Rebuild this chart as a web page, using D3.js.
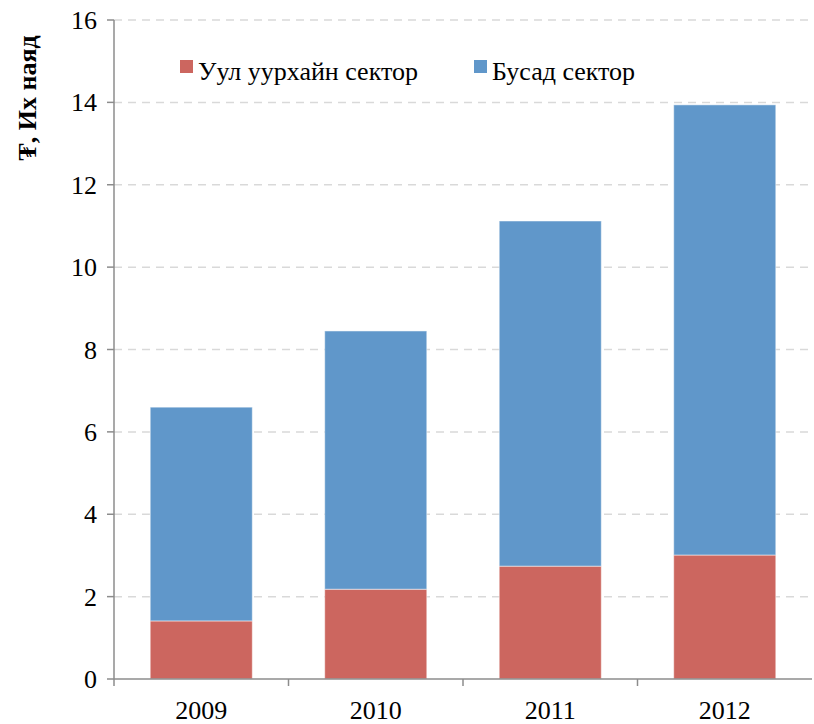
<!DOCTYPE html>
<html>
<head>
<meta charset="utf-8">
<script src="https://cdn.jsdelivr.net/npm/d3@7"></script>
</head>
<body style="margin:0">
<svg id="chart" width="814" height="724"></svg>
<script>
var years = ["2009", "2010", "2011", "2012"];
var mining = [1.41, 2.18, 2.74, 3.01];      // Уул уурхайн сектор
var other = [5.19, 6.27, 8.38, 10.93];      // Бусад сектор
var seriesNames = ["Уул уурхайн сектор", "Бусад сектор"];
var seriesColors = ["#CC665F", "#6097CA"];
var yTicks = [0, 2, 4, 6, 8, 10, 12, 14, 16];
var yTitle = "₮, Их наяд";

var FONT = "Liberation Serif";
var svg = d3.select("#chart");
var margin = {left: 114, right: 2, top: 20, bottom: 45};
var width = 814 - margin.left - margin.right;
var height = 724 - margin.top - margin.bottom;

// scales in page coordinates so texts can sit directly in the svg
var x = d3.scaleBand().domain(years).range([margin.left, margin.left + width])
  .paddingInner(0.415).paddingOuter(0.2075);
var y = d3.scaleLinear().domain([0, 16]).range([margin.top + height, margin.top]);
var x0 = margin.left, x1 = margin.left + width, yBase = y(0);

// gridlines
svg.selectAll(".grid").data(yTicks.slice(1)).enter().append("line")
  .attr("x1", x0).attr("x2", x1)
  .attr("y1", function(d) { return y(d); })
  .attr("y2", function(d) { return y(d); })
  .attr("stroke", "#d9d9d9")
  .attr("stroke-width", 1.5)
  .attr("stroke-dasharray", "8,6");

// stacked bars
var table = years.map(function(yr, i) {
  return {year: yr, mining: mining[i], other: other[i]};
});
var layers = d3.stack().keys(["mining", "other"])(table);

svg.selectAll(".layer").data(layers).enter().append("g")
  .attr("fill", function(d, i) { return seriesColors[i]; })
  .selectAll("rect").data(function(d) { return d; }).enter().append("rect")
  .attr("x", function(d) { return x(d.data.year); })
  .attr("width", x.bandwidth())
  .attr("y", function(d) { return y(d[1]); })
  .attr("height", function(d) { return y(d[0]) - y(d[1]); })
  .attr("stroke", "#ffffff")
  .attr("stroke-opacity", 0.5)
  .attr("stroke-width", 1);

// y axis
svg.append("line").attr("x1", x0).attr("x2", x0).attr("y1", y(16)).attr("y2", yBase)
  .attr("stroke", "#8c8c8c").attr("stroke-width", 1.5);
svg.selectAll(".ytick").data(yTicks).enter().append("line")
  .attr("x1", x0 - 7).attr("x2", x0)
  .attr("y1", function(d) { return y(d); }).attr("y2", function(d) { return y(d); })
  .attr("stroke", "#8c8c8c").attr("stroke-width", 1.5);
svg.selectAll(".ylabel").data(yTicks).enter().append("text")
  .attr("x", x0 - 17)
  .attr("y", function(d) { return y(d) + 9; })
  .attr("text-anchor", "end")
  .attr("font-family", FONT)
  .attr("font-size", 26)
  .text(function(d) { return d; });

// x axis with ticks between categories
svg.append("line").attr("x1", x0).attr("x2", x1).attr("y1", yBase).attr("y2", yBase)
  .attr("stroke", "#8c8c8c").attr("stroke-width", 1.5);
var bounds = [x0].concat(years.map(function(d) { return x(d) + x.bandwidth() + x.step() * x.paddingInner() / 2; }));
svg.selectAll(".xtick").data(bounds.slice(0, years.length)).enter().append("line")
  .attr("x1", function(d) { return d; }).attr("x2", function(d) { return d; })
  .attr("y1", yBase).attr("y2", yBase + 7)
  .attr("stroke", "#8c8c8c").attr("stroke-width", 1.5);
svg.selectAll(".xlabel").data(years).enter().append("text")
  .attr("x", function(d) { return x(d) + x.bandwidth() / 2; })
  .attr("y", yBase + 40)
  .attr("text-anchor", "middle")
  .attr("font-family", FONT)
  .attr("font-size", 26)
  .text(function(d) { return d; });

// y title
svg.append("text")
  .attr("transform", "translate(36,98) rotate(-90)")
  .attr("text-anchor", "middle")
  .attr("font-family", FONT)
  .attr("font-size", 26)
  .attr("font-weight", "bold")
  .text(yTitle);

// legend
var legendX = [180, 474];
svg.selectAll(".lkey").data(seriesNames).enter().append("rect")
  .attr("x", function(d, i) { return legendX[i]; })
  .attr("y", 60)
  .attr("width", 13).attr("height", 13)
  .attr("fill", function(d, i) { return seriesColors[i]; });
svg.selectAll(".ltext").data(seriesNames).enter().append("text")
  .attr("x", function(d, i) { return legendX[i] + 18; })
  .attr("y", 80)
  .attr("font-family", FONT)
  .attr("font-size", 26)
  .text(function(d) { return d; });
</script>
</body>
</html>
